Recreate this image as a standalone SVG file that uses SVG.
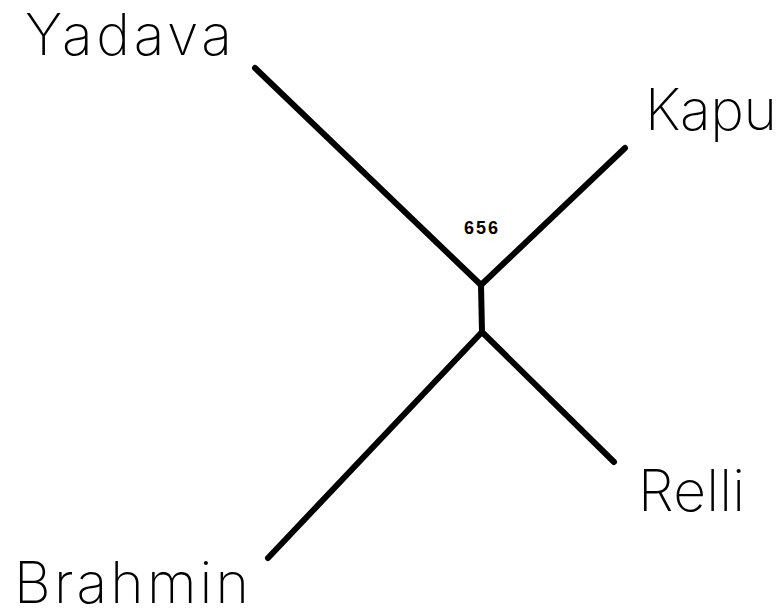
<svg xmlns="http://www.w3.org/2000/svg" width="781" height="608" viewBox="0 0 781 608">
<style>
.lbl{font-family:"Inter","Open Sans","Liberation Sans",sans-serif;font-weight:200;font-size:57px;fill:#000}
.br{fill:none;stroke:#000;stroke-width:6;stroke-linecap:round;stroke-linejoin:round}
.num{font-family:"Liberation Sans",Arial,sans-serif;font-weight:bold;font-size:18px;fill:#000;letter-spacing:2px}
</style>
<rect width="781" height="608" fill="#fff"/>
<g id="edges">
<path class="br" d="M255,68 L481,285"/>
<path class="br" d="M625,148 L481,285"/>
<path class="br" d="M481,285 L482,332"/>
<path class="br" d="M482,332 L614,462"/>
<path class="br" d="M482,332 L268,558"/>
</g>
<g id="node-yadava"><text class="lbl" x="25" y="55" textLength="207" lengthAdjust="spacing">Yadava</text></g>
<g id="node-kapu"><text class="lbl" x="645" y="130" textLength="132" lengthAdjust="spacing">Kapu</text></g>
<g id="node-relli"><text class="lbl" x="638" y="511" textLength="107" lengthAdjust="spacing">Relli</text></g>
<g id="node-brahmin"><text class="lbl" x="14" y="603" textLength="235" lengthAdjust="spacing">Brahmin</text></g>
<g id="label-656"><text class="num" x="482" y="234" text-anchor="middle">656</text></g>
</svg>
